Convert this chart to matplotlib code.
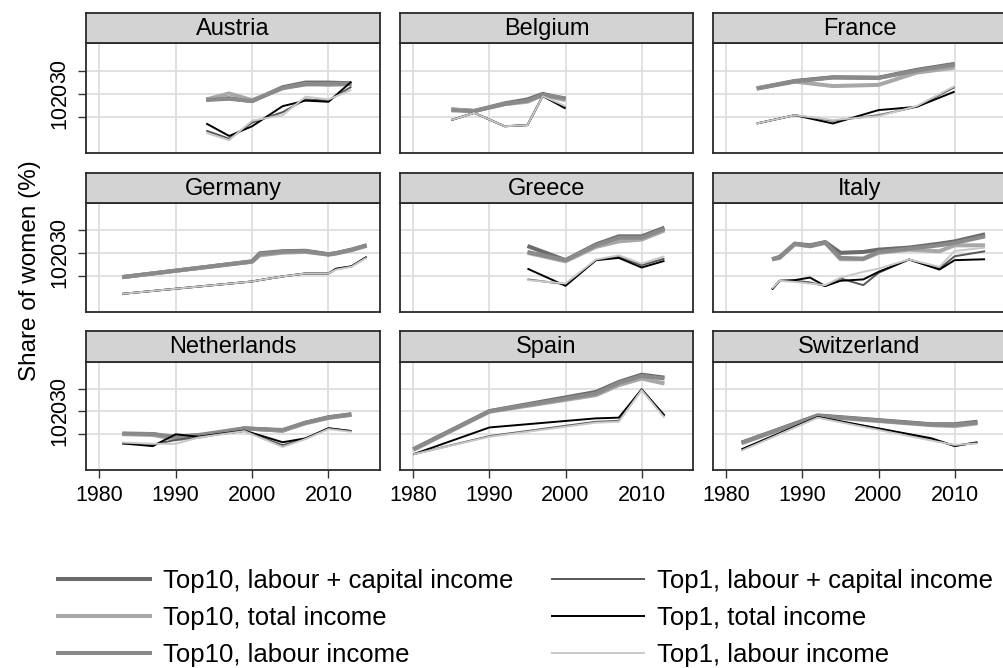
import matplotlib
matplotlib.use("Agg")
import matplotlib.pyplot as plt
from matplotlib.lines import Line2D

plt.rcParams['font.family'] = ['Liberation Sans', 'DejaVu Sans']

# ---- data (share of women, %) ----
countries = ['Austria', 'Belgium', 'France', 'Germany', 'Greece', 'Italy',
             'Netherlands', 'Spain', 'Switzerland']

series_labels = ['Top10, labour + capital income', 'Top10, total income', 'Top10, labour income',
                 'Top1, labour + capital income', 'Top1, total income', 'Top1, labour income']

at_years   = [1994, 1997, 2000, 2004, 2007, 2010, 2013]
at_t10_lc  = [17.5, 18.0, 16.8, 22.8, 24.8, 24.8, 24.5]
at_t10_tot = [17.5, 20.1, 17.2, 22.3, 24.2, 23.8, 24.1]
at_t10_lab = [17.3, 17.8, 16.8, 22.5, 24.0, 24.3, 24.3]
at_t1_lc   = [4.0, 0.5, 7.5, 12.0, 17.5, 17.0, 23.0]
at_t1_tot  = [7.1, 1.7, 5.9, 14.6, 17.0, 16.5, 25.2]
at_t1_lab  = [3.0, -0.1, 8.3, 10.7, 18.7, 17.5, 21.6]

be_years   = [1985, 1988, 1992, 1995, 1997, 2000]
be_t10_lc  = [13.2, 12.5, 15.8, 17.5, 19.9, 17.7]
be_t10_tot = [13.2, 12.5, 15.5, 16.5, 19.4, 17.2]
be_t10_lab = [12.8, 12.5, 15.5, 17.0, 19.5, 18.0]
be_t1_lc   = [8.6, 11.7, 5.9, 6.4, 19.0, 14.0]
be_t1_tot  = [8.6, 11.7, 5.9, 6.4, 19.0, 13.6]
be_t1_lab  = [8.6, 11.7, 5.9, 6.4, 19.0, 14.6]

fr_years   = [1984, 1989, 1994, 2000, 2005, 2010]
fr_t10_lc  = [22.3, 25.5, 27.1, 26.9, 30.3, 32.9]
fr_t10_tot = [22.3, 25.2, 23.3, 23.8, 29.1, 31.3]
fr_t10_lab = [22.2, 25.3, 27.0, 26.8, 30.0, 32.5]
fr_t1_lc   = [7.1, 10.7, 8.3, 10.7, 14.3, 22.8]
fr_t1_tot  = [7.1, 10.7, 7.1, 12.9, 14.3, 20.9]
fr_t1_lab  = [7.1, 10.7, 8.6, 10.3, 14.6, 23.3]

de_years   = [1983, 2000, 2001, 2004, 2007, 2010, 2011, 2013, 2015]
de_t10_lc  = [9.3, 16.2, 19.7, 20.6, 20.8, 19.3, 19.8, 21.3, 23.2]
de_t10_tot = [9.3, 16.0, 18.8, 20.0, 20.3, 19.1, 19.6, 21.0, 23.0]
de_t10_lab = [9.3, 16.1, 19.4, 20.4, 20.6, 19.2, 19.7, 21.2, 23.1]
de_t1_lc   = [2.0, 7.4, 8.0, 9.6, 10.9, 10.9, 12.8, 14.0, 18.1]
de_t1_tot  = [2.0, 7.4, 8.0, 9.6, 10.9, 10.9, 13.0, 14.0, 18.1]
de_t1_lab  = [2.0, 7.4, 8.0, 9.6, 10.9, 10.9, 12.6, 13.8, 17.8]

gr_years   = [1995, 2000, 2004, 2007, 2010, 2013]
gr_t10_lc  = [22.9, 16.7, 23.6, 27.1, 27.1, 30.9]
gr_t10_tot = [19.9, 16.2, 22.5, 24.9, 25.7, 29.7]
gr_t10_lab = [20.3, 16.7, 23.2, 26.5, 26.5, 30.4]
gr_t1_lc   = [8.3, 6.2, 16.7, 18.4, 14.5, 17.4]
gr_t1_tot  = [13.0, 5.5, 16.7, 17.7, 13.5, 16.4]
gr_t1_lab  = [8.0, 6.5, 17.0, 18.8, 15.2, 18.4]

it_years   = [1986, 1987, 1989, 1991, 1993, 1995, 1998, 2000, 2004, 2008, 2010, 2014]
it_t10_lc  = [17.1, 18.1, 23.9, 23.2, 24.6, 19.9, 20.3, 21.3, 22.2, 23.9, 24.9, 28.0]
it_t10_tot = [17.1, 17.7, 23.6, 22.8, 24.2, 17.1, 17.1, 19.9, 21.3, 20.6, 23.2, 23.2]
it_t10_lab = [17.1, 17.8, 23.9, 22.8, 24.5, 17.7, 17.4, 20.3, 21.7, 23.2, 24.2, 27.1]
it_t1_lc   = [3.9, 7.7, 7.7, 7.0, 5.4, 8.7, 5.8, 11.2, 17.0, 13.0, 18.4, 20.6]
it_t1_tot  = [3.9, 7.7, 8.0, 9.1, 5.4, 7.7, 8.3, 11.6, 17.0, 12.6, 16.7, 17.1]
it_t1_lab  = [4.3, 7.7, 7.2, 6.5, 5.8, 9.1, 11.6, 13.0, 17.0, 13.8, 20.7, 22.2]

nl_years   = [1983, 1987, 1990, 1993, 1999, 2004, 2007, 2010, 2013]
nl_t10_lc  = [10.0, 10.0, 8.1, 9.1, 12.5, 11.5, 15.0, 17.4, 18.7]
nl_t10_tot = [10.0, 9.6, 7.7, 8.8, 12.5, 11.5, 14.7, 17.1, 18.4]
nl_t10_lab = [10.3, 10.0, 8.8, 9.6, 12.5, 11.8, 15.0, 17.2, 18.6]
nl_t1_lc   = [5.9, 5.4, 7.4, 8.8, 11.3, 5.1, 8.0, 12.6, 11.3]
nl_t1_tot  = [5.9, 4.7, 9.9, 8.8, 11.5, 6.4, 8.1, 12.5, 11.3]
nl_t1_lab  = [6.3, 5.7, 5.7, 8.5, 11.3, 4.3, 7.8, 12.2, 11.0]

es_years   = [1980, 1990, 2004, 2007, 2010, 2013]
es_t10_lc  = [3.3, 20.1, 28.5, 32.9, 36.1, 34.8]
es_t10_tot = [3.0, 19.8, 27.1, 31.5, 34.4, 32.2]
es_t10_lab = [3.3, 20.0, 27.8, 32.5, 35.5, 34.4]
es_t1_lc   = [1.1, 9.1, 15.4, 15.8, 29.7, 17.9]
es_t1_tot  = [1.1, 12.9, 16.9, 17.2, 29.6, 18.2]
es_t1_lab  = [1.1, 8.8, 15.0, 15.4, 29.3, 17.2]

ch_years   = [1982, 1992, 2007, 2010, 2013]
ch_t10_lc  = [6.2, 18.2, 14.3, 14.3, 15.4]
ch_t10_tot = [5.9, 17.8, 13.9, 13.5, 14.7]
ch_t10_lab = [6.2, 18.0, 14.1, 14.0, 15.0]
ch_t1_lc   = [3.0, 17.4, 7.8, 4.9, 6.2]
ch_t1_tot  = [3.3, 17.5, 8.1, 4.7, 6.4]
ch_t1_lab  = [2.7, 17.2, 7.1, 5.2, 5.9]

year_ticks = [1980, 1990, 2000, 2010]
share_ticks = [10, 20, 30]

panel_data = [
    (at_years, [at_t10_lc, at_t10_tot, at_t10_lab, at_t1_lc, at_t1_tot, at_t1_lab]),
    (be_years, [be_t10_lc, be_t10_tot, be_t10_lab, be_t1_lc, be_t1_tot, be_t1_lab]),
    (fr_years, [fr_t10_lc, fr_t10_tot, fr_t10_lab, fr_t1_lc, fr_t1_tot, fr_t1_lab]),
    (de_years, [de_t10_lc, de_t10_tot, de_t10_lab, de_t1_lc, de_t1_tot, de_t1_lab]),
    (gr_years, [gr_t10_lc, gr_t10_tot, gr_t10_lab, gr_t1_lc, gr_t1_tot, gr_t1_lab]),
    (it_years, [it_t10_lc, it_t10_tot, it_t10_lab, it_t1_lc, it_t1_tot, it_t1_lab]),
    (nl_years, [nl_t10_lc, nl_t10_tot, nl_t10_lab, nl_t1_lc, nl_t1_tot, nl_t1_lab]),
    (es_years, [es_t10_lc, es_t10_tot, es_t10_lab, es_t1_lc, es_t1_tot, es_t1_lab]),
    (ch_years, [ch_t10_lc, ch_t10_tot, ch_t10_lab, ch_t1_lc, ch_t1_tot, ch_t1_lab]),
]

# line styles: grey scale, thick for top 10, thin for top 1
colors = ['#6b6b6b', '#a8a8a8', '#8a8a8a', '#575757', '#000000', '#c8c8c8']
widths = [2.9, 2.9, 2.9, 1.4, 1.4, 1.4]

W, H = 1004, 668
fig = plt.figure(figsize=(W / 100, H / 100), dpi=100)
fig.patch.set_facecolor('white')

def box(left, right, top, bottom):
    return [left / W, 1 - bottom / H, (right - left) / W, (bottom - top) / H]

cols = [(86, 380), (400, 693), (713, 1006)]
rows = [(13.3, 43.3, 153.3), (172.7, 202.7, 311.7), (330.7, 361.7, 470.0)]

for i, name in enumerate(countries):
    r, c = divmod(i, 3)
    left, right = cols[c]
    s_top, p_top, p_bot = rows[r]

    ax = fig.add_axes(box(left, right, p_top, p_bot))
    years, vals = panel_data[i]
    for k in range(6):
        ax.plot(years, vals[k], color=colors[k], lw=widths[k],
                solid_joinstyle='round', solid_capstyle='butt', zorder=3)

    ax.set_xlim(1978.25, 2016.75)
    ax.set_ylim(-5.8, 41.8)
    ax.set_xticks(year_ticks)
    ax.set_yticks(share_ticks)
    ax.grid(True, color='#dedede', lw=1.3, zorder=0)
    ax.set_axisbelow(True)
    for sp in ax.spines.values():
        sp.set_color('#2a2a2a')
        sp.set_linewidth(1.3)
    ax.tick_params(length=6, width=1.0, color='#333333', labelsize=15.5, pad=5)

    if c == 0:
        ax.set_yticklabels([str(v) for v in share_ticks], rotation=90, va='center')
    else:
        ax.tick_params(axis='y', length=0, labelleft=False)
    if r == 2:
        ax.set_xticklabels([str(v) for v in year_ticks])
    else:
        ax.tick_params(axis='x', length=0, labelbottom=False)

    st = fig.add_axes(box(left, right, s_top, p_top))
    st.set_facecolor('#d3d3d3')
    st.set_xticks([])
    st.set_yticks([])
    for sp in st.spines.values():
        sp.set_color('#2a2a2a')
        sp.set_linewidth(1.3)
    st.text(0.5, 0.47, name, ha='center', va='center', fontsize=17, transform=st.transAxes)

fig.text(30 / W, 1 - 271 / H, 'Share of women (%)', rotation=90,
         ha='center', va='center', fontsize=17.5)

handles = [Line2D([], [], color=colors[k], lw=widths[k]) for k in range(6)]
fig.legend(handles, series_labels, ncol=2, loc='upper left',
           bbox_to_anchor=(58 / W, 1 - 569 / H), frameon=False, fontsize=18.5,
           handlelength=3.58, handletextpad=0.5, columnspacing=1.5,
           labelspacing=0.5, borderpad=0, borderaxespad=0)

fig.savefig('out.png', dpi=100, facecolor='white')
